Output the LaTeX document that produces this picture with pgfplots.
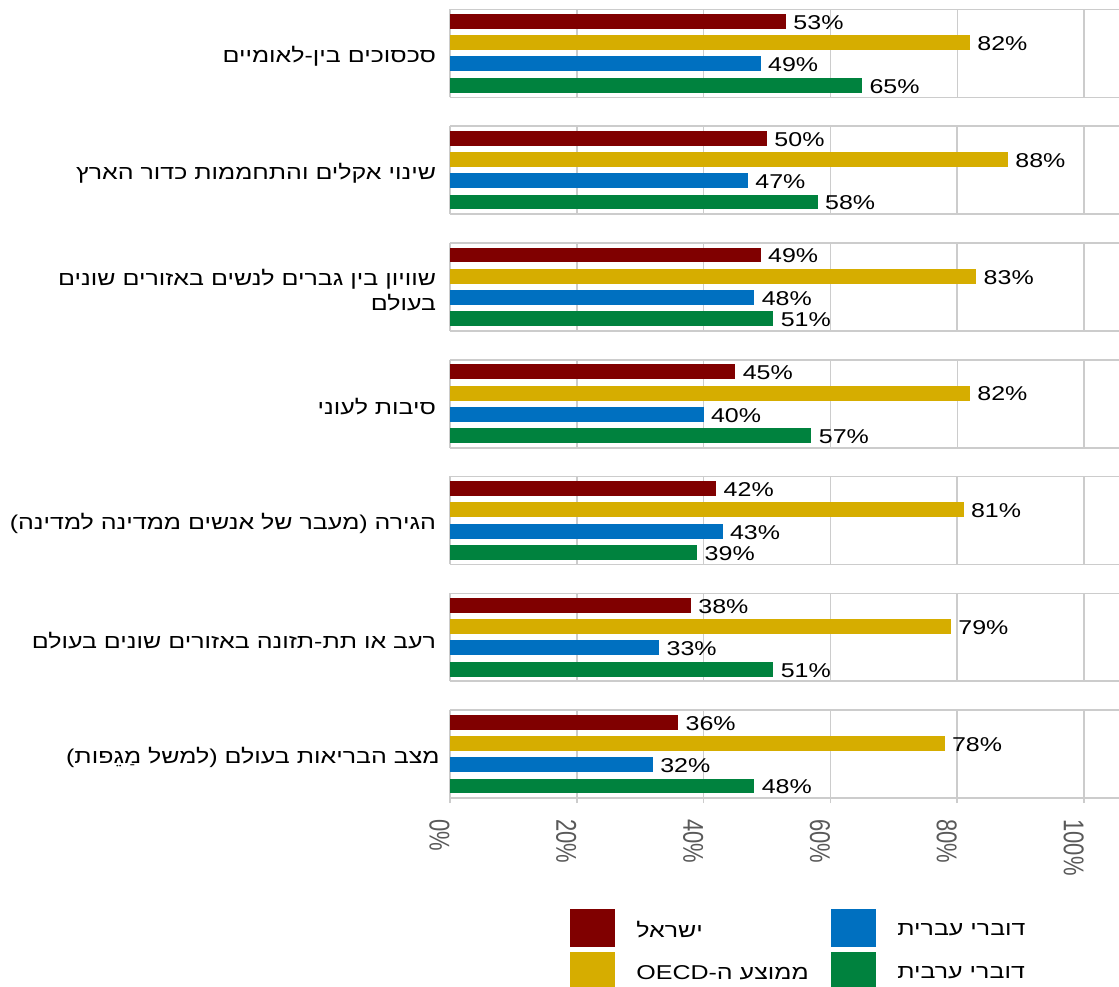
\documentclass[border=0pt]{standalone}
\usepackage{fontspec}
\usepackage{graphicx}
\setmainfont{Liberation Sans}[FakeStretch=1.25]
\newfontfamily\heb{Liberation Sans}[Script=Hebrew,FakeStretch=1.25]
\newfontfamily\tickfont{Liberation Sans}
\TeXXeTstate=1
\usepackage{pgfplots}
\pgfplotsset{compat=1.18}
\usepgfplotslibrary{groupplots}

\definecolor{cIsr}{RGB}{128,0,0}
\definecolor{cOecd}{RGB}{214,173,0}
\definecolor{cHeb}{RGB}{0,112,192}
\definecolor{cArb}{RGB}{0,130,62}
\definecolor{cGrid}{RGB}{204,204,204}
\definecolor{cTick}{RGB}{89,89,89}

% rotated tick labels: the reference is stretched across its width
\newcommand{\tl}[1]{\scalebox{1}[1.3]{#1}}

\pgfplotsset{
  sIsr/.style={fill=cIsr, draw=none, /pgf/bar shift=0pt},
  sOecd/.style={fill=cOecd, draw=none, /pgf/bar shift=0pt},
  sHeb/.style={fill=cHeb, draw=none, /pgf/bar shift=0pt},
  sArb/.style={fill=cArb, draw=none, /pgf/bar shift=0pt},
}

\begin{document}
\begin{tikzpicture}[font=\fontsize{10}{12.5}\selectfont]
\begin{groupplot}[
  group style={group size=1 by 7, vertical sep=14.4pt},
  scale only axis, width=334.5pt, height=44pt,
  xbar, /pgf/bar width=0.7,
  xmin=0, xmax=105.5, ymin=0.43, ymax=4.57,
  enlargelimits=false,
  axis line style={draw=none},
  xtick={0,20,40,60,80,100},
  xticklabels={},
  xtick style={draw=none},
  xmajorgrids,
  grid style={draw=cGrid, line width=0.8pt},
  ytick={2.5},
  ytick style={draw=none},
  extra y ticks={0.43,4.57},
  extra y tick labels={},
  extra y tick style={grid=major},
  yticklabel style={align=right, inner sep=0pt, xshift=-2.5pt, yshift=-1.5pt, text=black},
  point meta=x,
  nodes near coords={\pgfmathprintnumber[assume math mode=true]{\pgfplotspointmeta}\%},
  nodes near coords align={horizontal},
  every node near coord/.append style={text=black, inner sep=3.5pt, yshift=-0.5pt},
]
\nextgroupplot[yticklabels={{\heb\beginR סכסוכים בין-לאומיים\endR}}]
\addplot[sIsr] coordinates {(53,4)};
\addplot[sOecd] coordinates {(82,3)};
\addplot[sHeb] coordinates {(49,2)};
\addplot[sArb] coordinates {(65,1)};

\nextgroupplot[yticklabels={{\heb\beginR שינוי אקלים והתחממות כדור הארץ\endR}}]
\addplot[sIsr] coordinates {(50,4)};
\addplot[sOecd] coordinates {(88,3)};
\addplot[sHeb] coordinates {(47,2)};
\addplot[sArb] coordinates {(58,1)};

\nextgroupplot[yticklabels={{\heb\beginR שוויון בין גברים לנשים באזורים שונים\endR\\\heb\beginR בעולם\endR}}]
\addplot[sIsr] coordinates {(49,4)};
\addplot[sOecd] coordinates {(83,3)};
\addplot[sHeb] coordinates {(48,2)};
\addplot[sArb] coordinates {(51,1)};

\nextgroupplot[yticklabels={{\heb\beginR סיבות לעוני\endR}}]
\addplot[sIsr] coordinates {(45,4)};
\addplot[sOecd] coordinates {(82,3)};
\addplot[sHeb] coordinates {(40,2)};
\addplot[sArb] coordinates {(57,1)};

\nextgroupplot[yticklabels={{\heb\beginR הגירה (מעבר של אנשים ממדינה למדינה)\endR}}]
\addplot[sIsr] coordinates {(42,4)};
\addplot[sOecd] coordinates {(81,3)};
\addplot[sHeb] coordinates {(43,2)};
\addplot[sArb] coordinates {(39,1)};

\nextgroupplot[yticklabels={{\heb\beginR רעב או תת-תזונה באזורים שונים בעולם\endR}}]
\addplot[sIsr] coordinates {(38,4)};
\addplot[sOecd] coordinates {(79,3)};
\addplot[sHeb] coordinates {(33,2)};
\addplot[sArb] coordinates {(51,1)};

\nextgroupplot[
  yticklabels={{\heb\beginR מצב הבריאות בעולם (למשל מַגֵפות)\endR}},
  xticklabels={\tl{0\%},\tl{20\%},\tl{40\%},\tl{60\%},\tl{80\%},\tl{100\%}},
  xtick style={draw=cGrid, line width=0.8pt},
  xtick pos=left,
  tick align=outside,
  major tick length=2.5pt,
  xticklabel style={rotate=-90, anchor=north west, font=\tickfont\fontsize{11}{13}\selectfont, text=cTick, inner sep=0pt},
  xticklabel shift=8pt,
  legend columns=2,
  transpose legend,
  legend image code/.code={\fill[#1] (0pt,-7.9pt) rectangle (22.5pt,11.1pt);},
  legend style={at={(0,0)}, anchor=north west, xshift=60pt, yshift=-55pt,
    draw=none, fill=none, inner sep=0pt, row sep=2.5pt, nodes={inner sep=0pt},
    /tikz/every odd column/.style={column sep=10.5pt},
    /tikz/every even column/.style={column sep=9.5pt}},
]
\addplot[sIsr] coordinates {(36,4)};
\addplot[sOecd] coordinates {(78,3)};
\addplot[sHeb] coordinates {(32,2)};
\addplot[sArb] coordinates {(48,1)};
\legend{\makebox[88pt][l]{\heb\beginR ישראל\endR}, \makebox[88pt][l]{\heb\beginR ממוצע ה-\beginL OECD\endL\endR}, \makebox[88pt][l]{\heb\beginR דוברי עברית\endR}, \makebox[88pt][l]{\heb\beginR דוברי ערבית\endR}}
\end{groupplot}
\pgfresetboundingbox
\path[use as bounding box] ([shift={(-225pt,4.65pt)}]group c1r1.north west) rectangle ([shift={(334.5pt,-488.35pt)}]group c1r1.north west);
\end{tikzpicture}
\end{document}
